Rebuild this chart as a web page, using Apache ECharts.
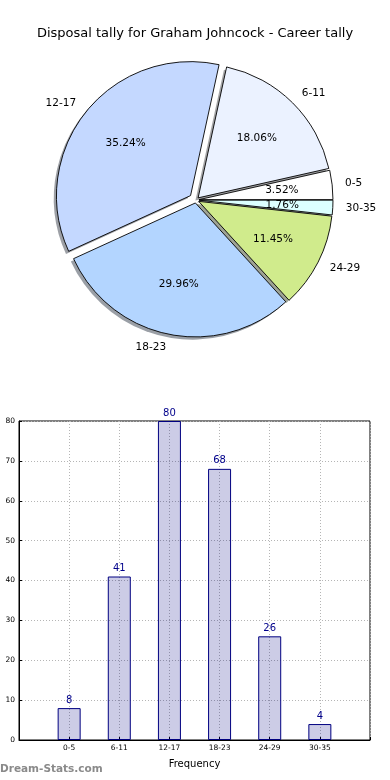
<!DOCTYPE html>
<html>
<head>
<meta charset="utf-8">
<script src="https://cdn.jsdelivr.net/npm/echarts@6/dist/echarts.min.js"></script>
<style>
html,body{margin:0;padding:0;background:#fff;}
#chart{width:390px;height:780px;}
</style>
</head>
<body>
<div id="chart"></div>
<script>
const titleText = 'Disposal tally for Graham Johncock - Career tally';
const categories = ['0-5', '6-11', '12-17', '18-23', '24-29', '30-35'];
const tally = [8, 41, 80, 68, 26, 4];
const sliceColors = ['#ffffff', '#ebf2ff', '#c4d8ff', '#b3d5ff', '#d0eb8c', '#dcffff'];
const bigExplodeIndex = 2;
const yTicks = [0, 10, 20, 30, 40, 50, 60, 70, 80];
const xAxisName = 'Frequency';
const watermark = 'Dream-Stats.com';

const FONT = 'DejaVu Sans';
const PIE_C = [196, 200];
const PIE_R = 134;
const SMALL_OFF = 3;
const BIG_OFF = 7;
const total = tally.reduce((a, b) => a + b, 0);
const pct = v => (v / total * 100).toFixed(2) + '%';

function shadowColor(hex) {
  const r = parseInt(hex.slice(1, 3), 16), g = parseInt(hex.slice(3, 5), 16), b = parseInt(hex.slice(5, 7), 16);
  return 'rgba(' + Math.round(r * 0.3) + ',' + Math.round(g * 0.3) + ',' + Math.round(b * 0.3) + ',0.5)';
}

const NONE = { color: 'rgba(0,0,0,0)', borderWidth: 0 };

function pieLayer(kind, big) {
  const offset = big ? BIG_OFF : SMALL_OFF;
  const center = kind === 'shadow' ? [PIE_C[0] - 2.7, PIE_C[1] + 2.7] : PIE_C;
  const radius = kind === 'pct' ? [0, PIE_R * 1.2] : [0, PIE_R];
  const data = categories.map((name, i) => {
    const mine = (i === bigExplodeIndex) === big;
    let itemStyle = NONE;
    if (mine && kind === 'shadow') itemStyle = { color: shadowColor(sliceColors[i]), borderWidth: 0 };
    if (mine && kind === 'main') itemStyle = { color: sliceColors[i], borderColor: '#000', borderWidth: 0.9 };
    return { name: name, value: tally[i], selected: true, itemStyle: itemStyle, label: { show: mine && (kind === 'pct' || kind === 'name') } };
  });
  const s = {
    type: 'pie', center: center, radius: radius, startAngle: 0, clockwise: false,
    selectedMode: 'multiple', selectedOffset: offset, avoidLabelOverlap: false,
    silent: true, animation: false, emphasis: { disabled: true }, select: { disabled: false },
    data: data, labelLine: { show: false }
  };
  if (kind === 'pct') {
    s.label = { position: 'inside', formatter: p => pct(p.value), fontFamily: FONT, fontSize: 10.5, color: '#000' };
  } else if (kind === 'name') {
    s.label = { position: 'outside', formatter: '{b}', fontFamily: FONT, fontSize: 10.5, color: '#000', distanceToLabelLine: 0 };
    s.labelLine = { show: false, length: 13, length2: 0 };
  } else {
    s.label = { show: false };
  }
  return s;
}

const pieSeries = [];
['shadow', 'main', 'pct', 'name'].forEach(k => { pieSeries.push(pieLayer(k, false)); pieSeries.push(pieLayer(k, true)); });

const chart = echarts.init(document.getElementById('chart'), null, { renderer: 'canvas' });
chart.setOption({
  animation: false,
  backgroundColor: '#fff',
  title: { text: titleText, left: 'center', top: 22, textStyle: { fontFamily: FONT, fontSize: 13, fontWeight: 'normal', color: '#000' } },
  graphic: [{ type: 'text', left: 0, top: 764, style: { text: watermark, fontFamily: FONT, fontSize: 10.5, fontWeight: 'bold', fill: '#8a8a8a' } }],
  grid: { left: 19, right: 20, top: 421, bottom: 40, show: true, borderColor: '#000', borderWidth: 1, outerBoundsMode: 'none', containLabel: false },
  xAxis: {
    type: 'value', min: 0, max: categories.length + 1, interval: 1,
    name: xAxisName, nameLocation: 'middle', nameGap: 19,
    nameTextStyle: { fontFamily: FONT, fontSize: 10, color: '#000' },
    axisLine: { show: true, lineStyle: { color: '#000', width: 1 } },
    axisTick: { show: true, inside: true, length: 3, lineStyle: { color: '#000' } },
    axisLabel: { formatter: v => categories[v - 1] || '', fontFamily: FONT, fontSize: 7.5, color: '#000', margin: 4 },
    splitLine: { show: true, lineStyle: { color: '#b5b5b5', type: [1, 2], width: 1 } }
  },
  yAxis: {
    type: 'value', min: yTicks[0], max: yTicks[yTicks.length - 1], interval: yTicks[1] - yTicks[0],
    axisLine: { show: true, lineStyle: { color: '#000', width: 1 } },
    axisTick: { show: true, inside: true, length: 3, lineStyle: { color: '#000' } },
    axisLabel: { fontFamily: FONT, fontSize: 7.5, color: '#000', margin: 4 },
    splitLine: { show: true, lineStyle: { color: '#b5b5b5', type: [1, 2], width: 1 } }
  },
  series: pieSeries.concat([{
    type: 'bar',
    data: tally.map((v, i) => [i + 1, v]),
    barWidth: 23,
    z: 3,
    itemStyle: { color: 'rgba(0,0,128,0.2)', borderColor: '#000080', borderWidth: 1 },
    label: { show: true, position: 'top', distance: 3, fontFamily: FONT, fontSize: 10, color: '#00008b' },
    silent: true
  }])
});
</script>
</body>
</html>
